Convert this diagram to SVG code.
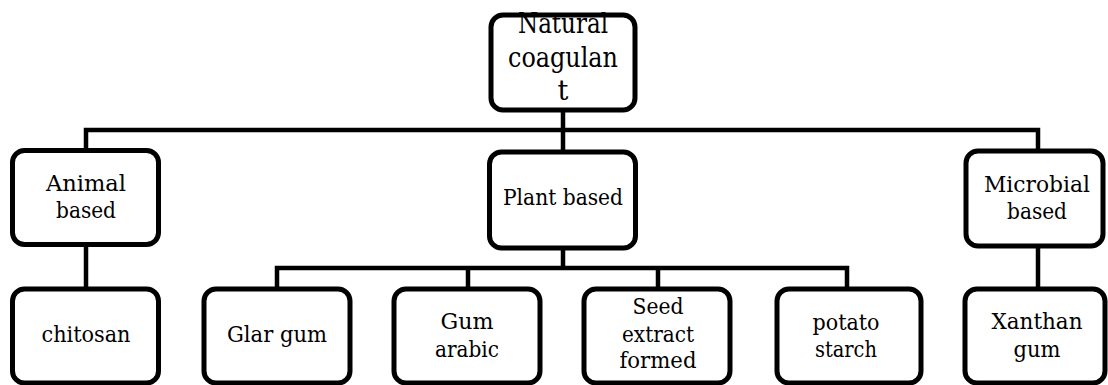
<svg xmlns="http://www.w3.org/2000/svg" width="1108" height="385" viewBox="0 0 1108 385">
  <style>
    .box { fill: #ffffff; stroke: #000000; stroke-width: 5; }
    .wire { fill: none; stroke: #000000; stroke-width: 4.5; stroke-linejoin: miter; }
    .lbl { font-family: 'DejaVu Serif', serif; font-size: 23px; fill: #000000; text-anchor: middle; }
    .lbl-top { font-size: 27px; }
  </style>
  <rect width="1108" height="385" fill="#ffffff"/>

  <!-- tree wiring -->
  <g id="connectors">
    <path class="wire" d="M563 110 V152"/>
    <path class="wire" d="M86 150 V130 H1038 V151"/>
    <path class="wire" d="M86 244 V289"/>
    <path class="wire" d="M563 248 V268"/>
    <path class="wire" d="M277 289 V268 H847 V289"/>
    <path class="wire" d="M468 268 V289"/>
    <path class="wire" d="M658 268 V289"/>
    <path class="wire" d="M1038 246 V289"/>
  </g>

  <g id="natural-coagulant">
    <rect class="box" x="491" y="15" width="144" height="95" rx="12"/>
    <text class="lbl lbl-top" x="563" y="33" textLength="90" lengthAdjust="spacingAndGlyphs">Natural</text>
    <text class="lbl lbl-top" x="563" y="67" textLength="110" lengthAdjust="spacingAndGlyphs">coagulan</text>
    <text class="lbl lbl-top" x="563" y="100">t</text>
  </g>

  <g id="animal-based">
    <rect class="box" x="12.5" y="150.5" width="146" height="94" rx="12"/>
    <text class="lbl" x="86" y="191" textLength="80" lengthAdjust="spacingAndGlyphs">Animal</text>
    <text class="lbl" x="86" y="218" textLength="60" lengthAdjust="spacingAndGlyphs">based</text>
  </g>

  <g id="plant-based">
    <rect class="box" x="489.5" y="152" width="146" height="96" rx="12"/>
    <text class="lbl" x="563" y="205" textLength="120" lengthAdjust="spacingAndGlyphs">Plant based</text>
  </g>

  <g id="microbial-based">
    <rect class="box" x="966" y="151" width="137" height="95" rx="12"/>
    <text class="lbl" x="1037" y="192" textLength="106" lengthAdjust="spacingAndGlyphs">Microbial</text>
    <text class="lbl" x="1037" y="219" textLength="60" lengthAdjust="spacingAndGlyphs">based</text>
  </g>

  <g id="chitosan">
    <rect class="box" x="12.5" y="289" width="146" height="94" rx="12"/>
    <text class="lbl" x="86" y="342" textLength="89" lengthAdjust="spacingAndGlyphs">chitosan</text>
  </g>

  <g id="glar-gum">
    <rect class="box" x="204" y="289" width="146" height="94" rx="12"/>
    <text class="lbl" x="277" y="342" textLength="100" lengthAdjust="spacingAndGlyphs">Glar gum</text>
  </g>

  <g id="gum-arabic">
    <rect class="box" x="394" y="289" width="146" height="94" rx="12"/>
    <text class="lbl" x="467" y="329" textLength="53" lengthAdjust="spacingAndGlyphs">Gum</text>
    <text class="lbl" x="467" y="357" textLength="64" lengthAdjust="spacingAndGlyphs">arabic</text>
  </g>

  <g id="seed-extract">
    <rect class="box" x="584" y="289" width="146" height="94" rx="12"/>
    <text class="lbl" x="658" y="314" textLength="51" lengthAdjust="spacingAndGlyphs">Seed</text>
    <text class="lbl" x="658" y="342" textLength="72" lengthAdjust="spacingAndGlyphs">extract</text>
    <text class="lbl" x="658" y="368" textLength="77" lengthAdjust="spacingAndGlyphs">formed</text>
  </g>

  <g id="potato-starch">
    <rect class="box" x="777" y="289" width="144" height="94" rx="12"/>
    <text class="lbl" x="846" y="330" textLength="67" lengthAdjust="spacingAndGlyphs">potato</text>
    <text class="lbl" x="846" y="357" textLength="62" lengthAdjust="spacingAndGlyphs">starch</text>
  </g>

  <g id="xanthan-gum">
    <rect class="box" x="965" y="289" width="140" height="94" rx="12"/>
    <text class="lbl" x="1037" y="329" textLength="91" lengthAdjust="spacingAndGlyphs">Xanthan</text>
    <text class="lbl" x="1037" y="357" textLength="47" lengthAdjust="spacingAndGlyphs">gum</text>
  </g>
</svg>
